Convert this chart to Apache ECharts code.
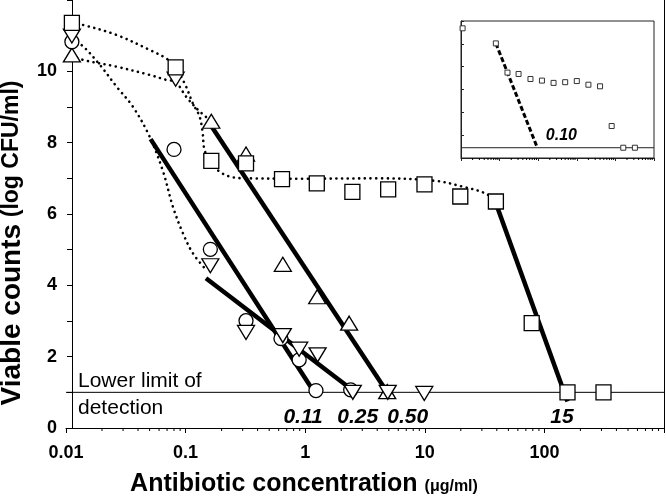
<!DOCTYPE html>
<html><head><meta charset="utf-8">
<script src="https://cdn.jsdelivr.net/npm/echarts@6/dist/echarts.min.js"></script>
<style>html,body{margin:0;padding:0;background:#fff}#c{width:666px;height:497px}</style>
</head><body><div id="c"></div>
<script>
const FONT = '"Liberation Sans", Arial, Helvetica, sans-serif';

// ---- main chart data (x = antibiotic concentration, y = log CFU/ml) ----
const squareX = [0.0112, 0.0826, 0.164, 0.32, 0.64, 1.25, 2.48, 4.94, 9.94, 19.8, 39.3, 78.3, 156, 312];
const squareY = [11.36, 10.11, 7.49, 7.42, 6.98, 6.86, 6.62, 6.69, 6.83, 6.49, 6.35, 2.94, 1.0, 1.0];

const circleX = [0.0112, 0.08, 0.161, 0.32, 0.627, 0.89, 1.23, 2.4];
const circleY = [10.83, 7.81, 5.01, 3.01, 2.51, 1.91, 1.05, 1.07];

const downTriX = [0.0112, 0.0826, 0.161, 0.32, 0.65, 0.89, 1.27, 2.5, 4.9, 9.9];
const downTriY = [10.99, 9.78, 4.55, 2.68, 2.59, 2.21, 2.05, 1.0, 1.0, 0.97];

const upTriX = [0.0112, 0.164, 0.32, 0.65, 1.26, 2.33, 4.85];
const upTriY = [10.46, 8.6, 7.68, 4.59, 3.68, 2.94, 1.02];

// dotted fitted curves
const fitSquareX = [0.0112, 0.0139, 0.0265, 0.05, 0.069, 0.0826, 0.1, 0.115, 0.131, 0.139, 0.144, 0.164, 0.192, 0.247, 0.34, 1.0, 4.14, 12.3, 20.5, 32, 39.3];
const fitSquareY = [11.36, 11.3, 11.02, 10.6, 10.36, 10.11, 9.6, 9.1, 8.73, 8.26, 7.79, 7.45, 7.19, 7.03, 7.0, 6.99, 7.0, 6.93, 6.77, 6.58, 6.35];

const fitUpX = [0.0112, 0.0139, 0.0265, 0.05, 0.069, 0.0826, 0.101, 0.127, 0.164];
const fitUpY = [10.46, 10.32, 10.13, 9.9, 9.76, 9.7, 9.29, 8.92, 8.6];

const fitDownX = [0.0112, 0.0139, 0.0192, 0.0265, 0.0364, 0.05, 0.0647, 0.0784, 0.095, 0.115, 0.149];
const fitDownY = [10.9, 10.7, 10.18, 9.57, 9.0, 8.17, 7.2, 6.2, 5.46, 4.9, 4.43];

// solid regression lines
const regCircle = [[0.051, 8.1], [1.15, 1.08]];
const regDown = [[0.148, 4.2], [2.4, 1.1]];
const regUp = [[0.164, 8.47], [4.7, 1.07]];
const regSquare = [[39.3, 6.3], [156, 0.74]];

const detectionLimit = 1;
const detectionText = 'Lower limit of\ndetection';
const micLabels = ['0.11', '0.25', '0.50', '15'];
const micLabelX = [0.96, 2.75, 7.2, 140];
const micLabelY = [0.31, 0.31, 0.31, 0.31];

const xTickLabels = ['0.01', '0.1', '1', '10', '100'];
const yTickLabels = ['0', '2', '4', '6', '8', '10'];

// ---- inset data ----
const insetX = [0.0011, 0.008, 0.016, 0.031, 0.063, 0.125, 0.25, 0.5, 1, 2, 4, 8, 16, 32];
const insetY = [5.68, 5.02, 3.74, 3.68, 3.46, 3.39, 3.29, 3.32, 3.37, 3.21, 3.14, 1.40, 0.45, 0.45];
const insetDetection = 0.45;
const insetReg = [[0.008, 5.02], [0.095, 0.45]];
const insetLabel = '0.10';
const insetLabelPos = [0.40, 1.0];

function zip(xs, ys) { return xs.map((x, i) => [x, ys[i]]); }
function minorTicks(lo, hi) {
  const out = [];
  for (let k = lo; k <= hi; k++) for (let m = 2; m <= 9; m++) out.push(+(m * Math.pow(10, k)).toPrecision(3));
  return out;
}
function tickSeries(xi, yi, vals, yBase, len) {
  return {
    type: 'custom', xAxisIndex: xi, yAxisIndex: yi, silent: true, clip: false, z: 4,
    data: vals.map(v => [v, yBase]),
    renderItem: (params, api) => {
      const p = api.coord([api.value(0), api.value(1)]);
      return { type: 'line', shape: { x1: p[0], y1: p[1], x2: p[0], y2: p[1] + len }, style: { stroke: '#000', lineWidth: 1 } };
    }
  };
}
const dotted = { color: '#000', width: 2.6, type: [0.1, 5.6], cap: 'round' };
function fitLine(xs, ys) {
  return { type: 'line', data: zip(xs, ys), smooth: 0.35, symbol: 'none', lineStyle: dotted, z: 2, silent: true };
}
function regLine(d) {
  return { type: 'line', data: d, symbol: 'none', lineStyle: { color: '#000', width: 4.5 }, z: 3, silent: true };
}
function markers(xs, ys, symbol, size, rotate) {
  return {
    type: 'scatter', data: zip(xs, ys), symbol: symbol, symbolSize: size, symbolRotate: rotate || 0,
    itemStyle: { color: '#fff', borderColor: '#000', borderWidth: 1.3, opacity: 1 }, z: 6, silent: true
  };
}
const textLabelBase = { color: '#000', fontFamily: FONT, textBorderWidth: 0, opacity: 1 };

const fmtNum = v => String(+Number(v).toPrecision(6));

const option = {
  animation: false,
  backgroundColor: '#fff',
  textStyle: { fontFamily: FONT },
  grid: [
    { left: 66, right: 2, top: 0, bottom: 69, show: false, containLabel: false, outerBoundsMode: 'none' },
    { left: 461, top: 21, width: 193, height: 137, show: true, borderColor: '#222', borderWidth: 1, backgroundColor: '#fff', z: 8,
      containLabel: false, outerBoundsMode: 'none' }
  ],
  xAxis: [
    {
      type: 'log', logBase: 10, min: 0.01, max: 1000, gridIndex: 0,
      axisLine: { lineStyle: { color: '#000', width: 1 } },
      axisTick: { length: 5, lineStyle: { color: '#000' } },
      splitLine: { show: false },
      axisLabel: {
        color: '#000', fontWeight: 'bold', fontSize: 18, fontFamily: FONT, margin: 16,
        formatter: v => { const s = fmtNum(v); return xTickLabels.includes(s) ? s : ''; }
      },
      name: 'Antibiotic concentration {u|(μg/ml)}',
      nameLocation: 'middle', nameGap: 44,
      nameTextStyle: {
        color: '#000', fontWeight: 'bold', fontSize: 25, fontFamily: FONT, padding: [0, 122, 0, 0],
        rich: { u: { fontSize: 16, fontWeight: 'bold', fontFamily: FONT, color: '#000', padding: [4, 0, 0, 0] } }
      }
    },
    {
      type: 'log', logBase: 10, min: 0.001, max: 100, gridIndex: 1,
      axisLine: { show: true, lineStyle: { color: '#222', width: 1 } },
      axisTick: { length: 3, lineStyle: { color: '#222' } },
      axisLabel: { show: false }, splitLine: { show: false }, z: 9
    }
  ],
  yAxis: [
    {
      type: 'value', min: 0, max: 12, interval: 1, gridIndex: 0, offset: -6,
      axisLine: { show: true, lineStyle: { color: '#000', width: 1 } },
      axisTick: { length: 5, lineStyle: { color: '#000' } },
      splitLine: { show: false },
      axisLabel: {
        color: '#000', fontWeight: 'bold', fontSize: 18, fontFamily: FONT, margin: 15,
        formatter: v => yTickLabels.includes(String(v)) ? String(v) : ''
      },
      name: '{b|Viable counts}  {s|(log CFU/ml)}',
      nameLocation: 'middle', nameGap: 37, nameRotate: 90,
      nameTextStyle: {
        color: '#000', fontFamily: FONT, padding: [0, 58, 0, 0],
        rich: {
          b: { fontSize: 28, fontWeight: 'bold', fontFamily: FONT, color: '#000' },
          s: { fontSize: 23, fontWeight: 'bold', fontFamily: FONT, color: '#000' }
        }
      }
    },
    {
      type: 'value', min: 0, max: 12, gridIndex: 0, position: 'right',
      axisLine: { show: true, lineStyle: { color: '#000', width: 1 } },
      axisTick: { show: false }, axisLabel: { show: false }, splitLine: { show: false }
    },
    {
      type: 'value', min: 0, max: 6, interval: 1, gridIndex: 1,
      axisLine: { show: true, lineStyle: { color: '#222' } },
      axisTick: { inside: true, length: 3, lineStyle: { color: '#222' } },
      axisLabel: { show: false }, splitLine: { show: false }, z: 9
    }
  ],
  series: [
    { type: 'line', data: [[0.01, detectionLimit], [1000, detectionLimit]], symbol: 'none',
      lineStyle: { color: '#000', width: 1 }, z: 2, silent: true },
    fitLine(fitSquareX, fitSquareY),
    fitLine(fitUpX, fitUpY),
    fitLine(fitDownX, fitDownY),
    regLine(regCircle), regLine(regDown), regLine(regUp), regLine(regSquare),
    markers(upTriX, upTriY, 'triangle', [17, 14]),
    markers(circleX, circleY, 'circle', 14),
    markers(downTriX, downTriY, 'triangle', [17, 14], 180),
    markers(squareX, squareY, 'rect', 15),
    { type: 'scatter', data: [[0.0126, 0.94]], symbolSize: 0, silent: true, z: 7, itemStyle: { opacity: 1 },
      label: Object.assign({ show: true, position: 'right', distance: 0, formatter: detectionText,
        fontSize: 21, lineHeight: 27, align: 'left', verticalAlign: 'middle' }, textLabelBase) },
    { type: 'scatter', data: zip(micLabelX, micLabelY).map((d, i) => ({ value: d, name: micLabels[i] })),
      symbolSize: 0, silent: true, z: 7, itemStyle: { opacity: 1 },
      label: Object.assign({ show: true, position: 'inside', formatter: p => p.name, fontSize: 21,
        fontWeight: 'bold', fontStyle: 'italic' }, textLabelBase) },
    tickSeries(0, 0, minorTicks(-2, 2), 0, 3),
    // ---- inset ----
    { type: 'line', xAxisIndex: 1, yAxisIndex: 2, data: [[0.001, insetDetection], [100, insetDetection]], symbol: 'none',
      lineStyle: { color: '#222', width: 1 }, z: 10, silent: true },
    { type: 'line', xAxisIndex: 1, yAxisIndex: 2, data: insetReg, symbol: 'none',
      lineStyle: { color: '#000', width: 3, type: [5, 2.5] }, z: 10, silent: true },
    { type: 'scatter', xAxisIndex: 1, yAxisIndex: 2, data: zip(insetX, insetY), symbol: 'rect', symbolSize: 5,
      itemStyle: { color: '#fff', borderColor: '#333', borderWidth: 1, opacity: 1 }, z: 11, silent: true },
    { type: 'scatter', xAxisIndex: 1, yAxisIndex: 2, data: [{ value: insetLabelPos, name: insetLabel }], symbolSize: 0, z: 11, silent: true,
      itemStyle: { opacity: 1 },
      label: Object.assign({ show: true, position: 'inside', formatter: p => p.name, fontSize: 16,
        fontWeight: 'bold', fontStyle: 'italic' }, textLabelBase) },
    Object.assign(tickSeries(1, 2, minorTicks(-3, 1), 0, 2), { z: 10 })
  ]
};

const chart = echarts.init(document.getElementById('c'), null, { renderer: 'canvas' });
chart.setOption(option);
</script>
</body></html>
